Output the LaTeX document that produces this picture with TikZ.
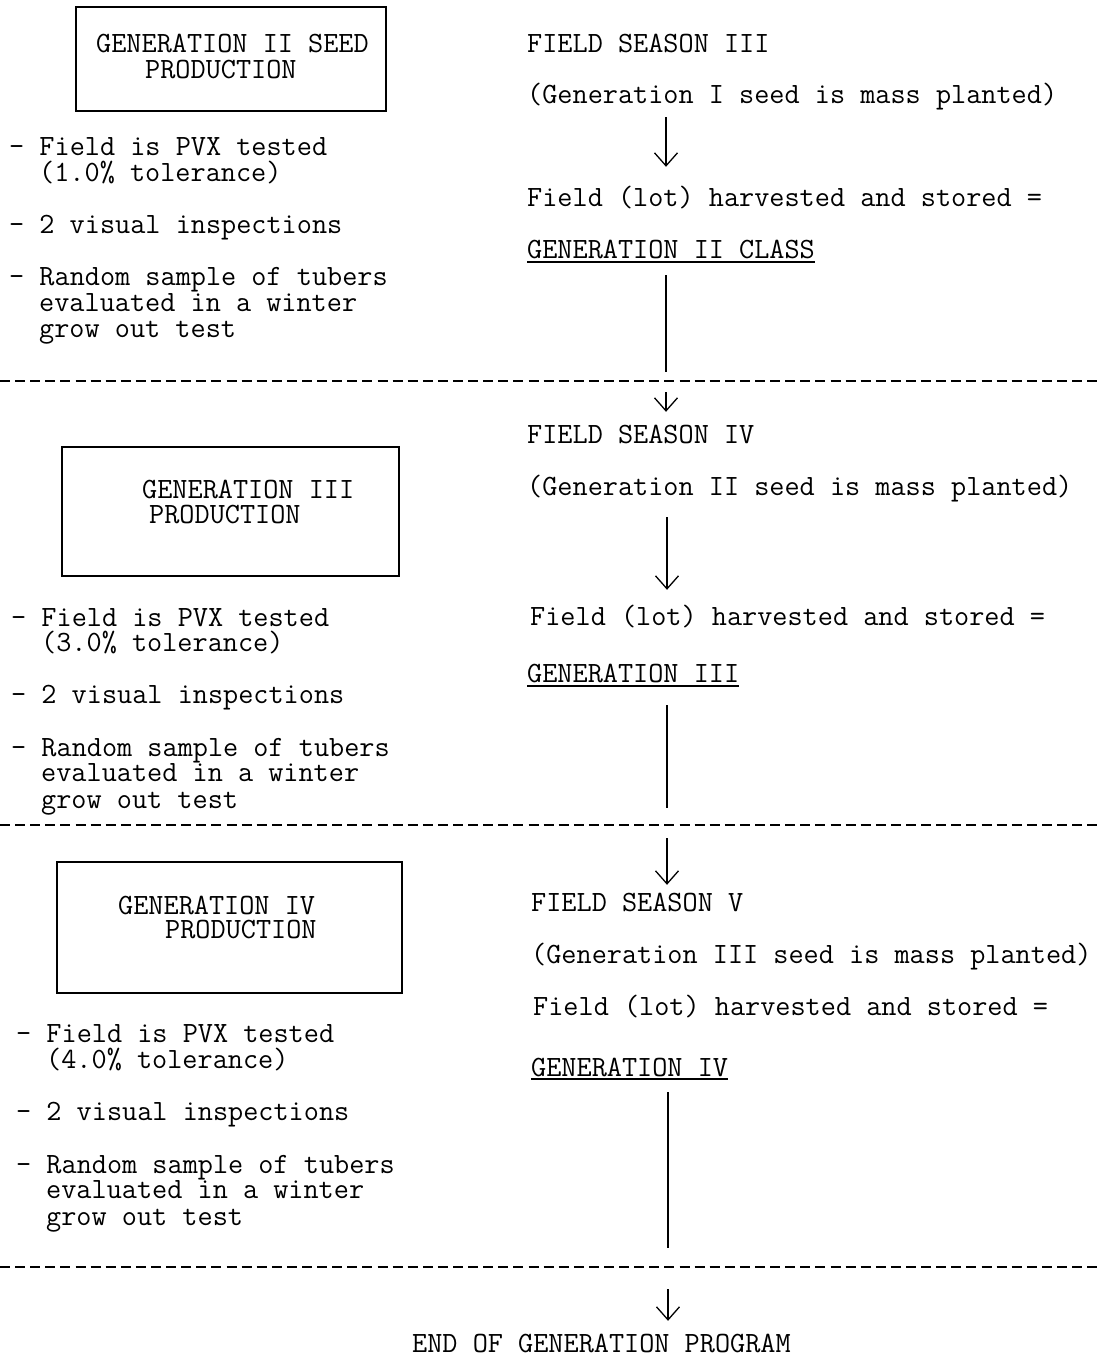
\documentclass[tikz,border=0pt]{standalone}
\usepackage{fontspec}
\usetikzlibrary{arrows.meta}
\begin{document}
\begin{tikzpicture}[x=1pt,y=-1pt,
  tx/.style={font=\ttfamily\fontsize{29.4}{30}\selectfont, anchor=west, inner sep=0pt, text height=17pt, text depth=0pt},
  gbox/.style={draw, line width=1.4pt, inner sep=0pt},
  ln/.style={line width=1.3pt},
  arr/.style={line width=1.3pt, -{Straight Barb[length=13pt,width=23pt,line width=1.3pt]}},
  sepline/.style={line width=1.4pt, dash pattern=on 10pt off 5.1pt},
  ul/.style={line width=1.3pt}]
\fill[white] (0,0) rectangle (1098,1357);
\useasboundingbox (0,0) rectangle (1098,1357);

% spines and separators
\coordinate (s1) at (666,0);
\coordinate (s2) at (667,0);
\coordinate (s3) at (668,0);
\coordinate (d1l) at (0,381);  \coordinate (d1r) at (1098,381);
\coordinate (d2l) at (0,825);  \coordinate (d2r) at (1098,825);
\coordinate (d3l) at (0,1267); \coordinate (d3r) at (1098,1267);
\draw[sepline] (d1l) -- (d1r);
\draw[sepline] (d2l) -- (d2r);
\draw[sepline] (d3l) -- (d3r);

% ---------- section 1 ----------
\node[gbox, minimum width=310pt, minimum height=104pt] (box1) at (231,59) {};
\node[tx] (b1a) at (96,44) {GENERATION II SEED};
\node[tx] (b1b) at (145,70) {PRODUCTION};
\node[tx] (l1a) at (9,147) {- Field is PVX tested};
\node[tx] (l1b) at (39,173) {(1.0\% tolerance)};
\node[tx] (l1c) at (9,225) {- 2 visual inspections};
\node[tx] (l1d) at (9,277) {- Random sample of tubers};
\node[tx] (l1e) at (39,303) {evaluated in a winter};
\node[tx] (l1f) at (39,329) {grow out test};

\node[tx] (fs3) at (527,44) {FIELD SEASON III};
\node[tx] (pl1) at (527,95) {(Generation I seed is mass planted)};
\node[tx] (hv1) at (527,198) {Field (lot) harvested and stored =};
\node[tx] (cl1) at (527,250) {GENERATION II CLASS};
\draw[ul] ([yshift=-12pt]cl1.west) -- ([yshift=-12pt]cl1.east);

% ---------- section 2 ----------
\node[gbox, minimum width=337pt, minimum height=129pt] (box2) at (230.5,511.5) {};
\node[tx] (b2a) at (142,490) {GENERATION III};
\node[tx] (b2b) at (149,515) {PRODUCTION};
\node[tx] (l2a) at (11,618) {- Field is PVX tested};
\node[tx] (l2b) at (41,643) {(3.0\% tolerance)};
\node[tx] (l2c) at (11,695) {- 2 visual inspections};
\node[tx] (l2d) at (11,748) {- Random sample of tubers};
\node[tx] (l2e) at (41,773) {evaluated in a winter};
\node[tx] (l2f) at (41,800) {grow out test};

\node[tx] (fs4) at (527,435) {FIELD SEASON IV};
\node[tx] (pl2) at (527,487) {(Generation II seed is mass planted)};
\node[tx] (hv2) at (530,617) {Field (lot) harvested and stored =};
\node[tx] (cl2) at (527,674) {GENERATION III};
\draw[ul] ([yshift=-12pt]cl2.west) -- ([yshift=-12pt]cl2.east);

% ---------- section 3 ----------
\node[gbox, minimum width=345pt, minimum height=131pt] (box3) at (229.5,927.5) {};
\node[tx] (b3a) at (118,906) {GENERATION IV};
\node[tx] (b3b) at (165,930) {PRODUCTION};
\node[tx] (l3a) at (16,1034) {- Field is PVX tested};
\node[tx] (l3b) at (46,1060) {(4.0\% tolerance)};
\node[tx] (l3c) at (16,1112) {- 2 visual inspections};
\node[tx] (l3d) at (16,1165) {- Random sample of tubers};
\node[tx] (l3e) at (46,1190) {evaluated in a winter};
\node[tx] (l3f) at (46,1217) {grow out test};

\node[tx] (fs5) at (531,903) {FIELD SEASON V};
\node[tx] (pl3) at (531,955) {(Generation III seed is mass planted)};
\node[tx] (hv3) at (533,1007) {Field (lot) harvested and stored =};
\node[tx] (cl3) at (531,1068) {GENERATION IV};
\draw[ul] ([yshift=-11pt]cl3.west) -- ([yshift=-11pt]cl3.east);

\node[tx] (fin) at (412,1344) {END OF GENERATION PROGRAM};

% ---------- connectors ----------
\draw[arr, shorten <=13.5pt, shorten >=22.5pt] (pl1.south -| s1) -- (hv1.north -| s1);
\draw[ln, shorten <=16.5pt, shorten >=9pt] (cl1.south -| s1) -- (d1l -| s1);
\draw[arr, shorten <=11pt, shorten >=14.5pt] (d1l -| s1) -- (fs4.north -| s1);

\draw[arr, shorten <=21.5pt, shorten >=18.5pt] (pl2.south -| s2) -- (hv2.north -| s2);
\draw[ln, shorten <=22.5pt, shorten >=17pt] (cl2.south -| s2) -- (d2l -| s2);
\draw[arr, shorten <=13pt, shorten >=9.5pt] (d2l -| s2) -- (fs5.north -| s2);

\draw[ln, shorten <=15.5pt, shorten >=19pt] (cl3.south -| s3) -- (d3l -| s3);
\draw[arr, shorten <=22pt, shorten >=14.5pt] (d3l -| s3) -- (fin.north -| s3);
\end{tikzpicture}
\end{document}
